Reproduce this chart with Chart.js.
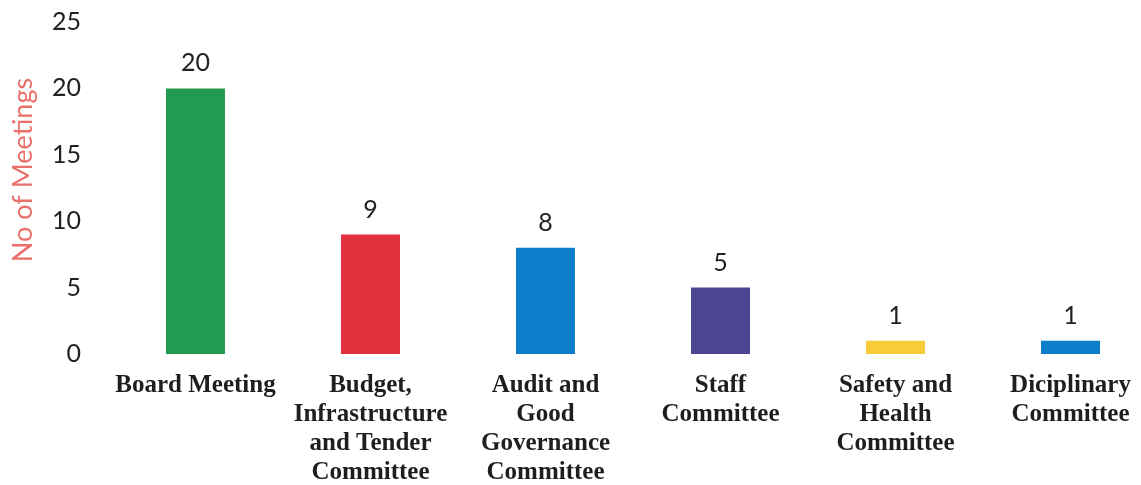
<!DOCTYPE html>
<html>
<head>
<meta charset="utf-8">
<script src="https://cdn.jsdelivr.net/npm/chart.js@4/dist/chart.umd.min.js"></script>
<style>
  html, body { margin: 0; padding: 0; background: #ffffff; }
  #wrap { width: 1141px; height: 485px; overflow: hidden; position: relative; }
  canvas { display: block; }
</style>
</head>
<body>
<div id="wrap"><canvas id="c" width="1160" height="485"></canvas></div>
<script>
// Meetings held per committee
const categories = [
  ['Board Meeting'],
  ['Budget,', 'Infrastructure', 'and Tender', 'Committee'],
  ['Audit and', 'Good', 'Governance', 'Committee'],
  ['Staff', 'Committee'],
  ['Safety and', 'Health', 'Committee'],
  ['Diciplinary', 'Committee']
];
const meetings = [20, 9, 8, 5, 1, 1];
const barColors = ['#229b51', '#e2323e', '#0c7dc9', '#4b4592', '#f8cb38', '#0c7dc9'];
const yTicks = [0, 5, 10, 15, 20, 25];
const yTitle = 'No of Meetings';

const sansFont = 'Lato, "Open Sans", sans-serif';
const serifFont = '"Liberation Serif", "Times New Roman", serif';

// Value labels above each bar
const valueLabels = {
  id: 'valueLabels',
  afterDatasetsDraw(chart) {
    const ctx = chart.ctx;
    const meta = chart.getDatasetMeta(0);
    ctx.save();
    ctx.font = '25px ' + sansFont;
    ctx.fillStyle = '#222222';
    ctx.textAlign = 'center';
    ctx.textBaseline = 'middle';
    meta.data.forEach((bar, i) => {
      ctx.fillText(String(meetings[i]), bar.x, bar.y - 25);
    });
    ctx.restore();
  }
};

// Rotated y-axis title
const axisTitle = {
  id: 'axisTitle',
  afterDraw(chart) {
    const ctx = chart.ctx;
    ctx.save();
    ctx.translate(23, 170);
    ctx.rotate(-Math.PI / 2);
    ctx.font = '27px ' + sansFont;
    ctx.fillStyle = '#e8716b';
    ctx.textAlign = 'center';
    ctx.textBaseline = 'middle';
    ctx.fillText(yTitle, 0, 0);
    ctx.restore();
  }
};

new Chart(document.getElementById('c'), {
  type: 'bar',
  data: {
    labels: categories,
    datasets: [{
      data: meetings,
      backgroundColor: barColors,
      borderWidth: 0,
      categoryPercentage: 1,
      barPercentage: 0.337
    }]
  },
  options: {
    responsive: false,
    animation: false,
    devicePixelRatio: 1,
    layout: { padding: { top: 22, right: 2, left: 0, bottom: 0 } },
    plugins: {
      legend: { display: false },
      tooltip: { enabled: false }
    },
    scales: {
      x: {
        grid: { display: false, drawTicks: false },
        border: { display: false },
        ticks: {
          color: '#1e1e1e',
          padding: 17,
          maxRotation: 0,
          autoSkip: false,
          font: { family: serifFont, size: 25, weight: 'bold', lineHeight: 1.16 }
        },
        afterFit(scale) { scale.height = 131; }
      },
      y: {
        min: 0,
        max: 25,
        grid: { display: false, drawTicks: false },
        border: { display: false },
        afterBuildTicks(scale) { scale.ticks = yTicks.map(v => ({ value: v })); },
        ticks: {
          color: '#222222',
          padding: 27,
          font: { family: sansFont, size: 25 }
        },
        afterFit(scale) {
          scale.width = 108;
          scale.paddingTop = 0;
          scale.paddingBottom = 0;
        }
      }
    }
  },
  plugins: [valueLabels, axisTitle]
});
</script>
</body>
</html>
